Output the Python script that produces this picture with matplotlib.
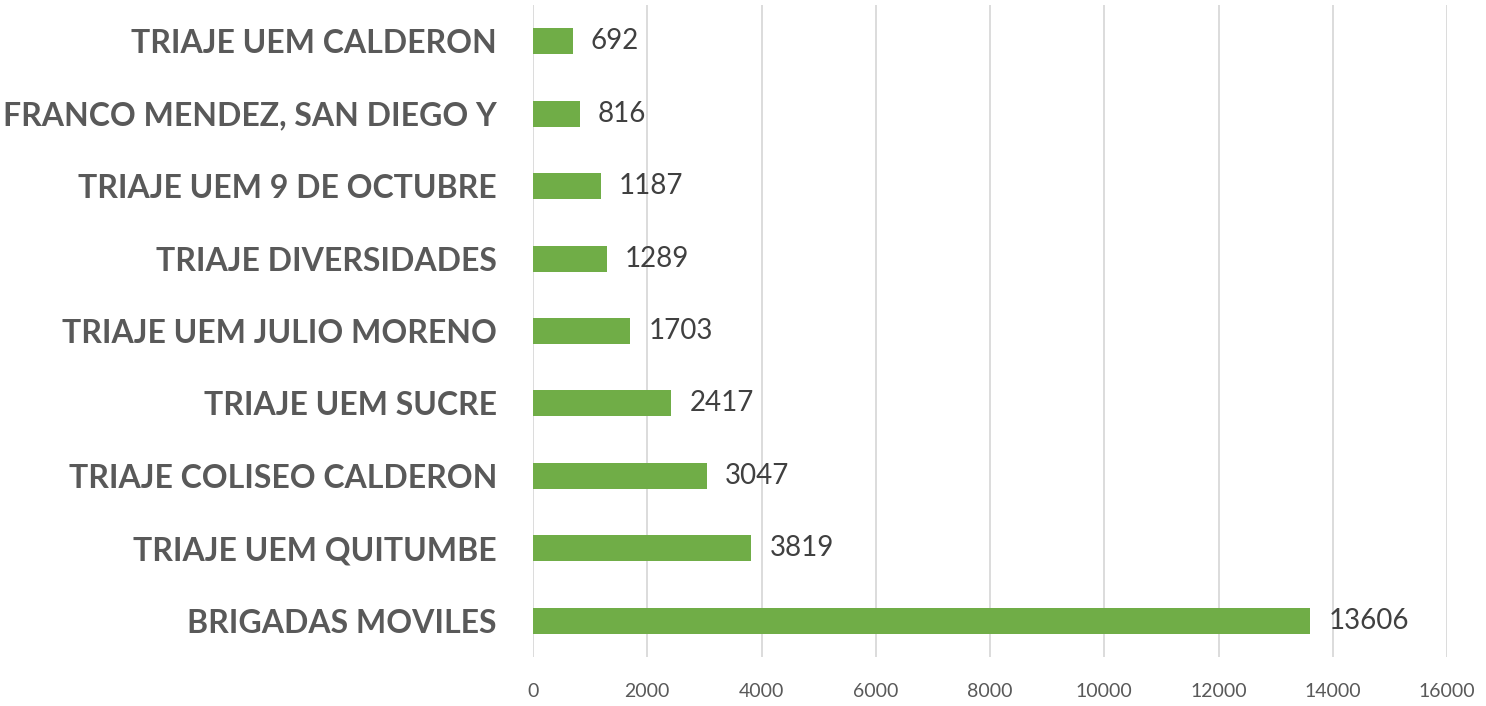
import matplotlib
matplotlib.use("Agg")
import matplotlib.pyplot as plt

categories = ["BRIGADAS MOVILES", "TRIAJE UEM QUITUMBE", "TRIAJE COLISEO CALDERON",
              "TRIAJE UEM SUCRE", "TRIAJE UEM JULIO MORENO", "TRIAJE DIVERSIDADES",
              "TRIAJE UEM 9 DE OCTUBRE", "FRANCO MENDEZ, SAN DIEGO Y", "TRIAJE UEM CALDERON"]
values = [13606, 3819, 3047, 2417, 1703, 1289, 1187, 816, 692]
xticks = [0, 2000, 4000, 6000, 8000, 10000, 12000, 14000, 16000]

plt.rcParams['font.family'] = ['Lato', 'DejaVu Sans']
TXT = '#595959'

fig = plt.figure(figsize=(14.86, 7.06), dpi=100)
ax = fig.add_axes([533/1486, 1-657/706, (1447-533)/1486, (657-5)/706])

y = list(range(len(categories)))
ax.barh(y, values, height=0.36, color='#70AD47', zorder=3)
for yi, v in zip(y, values):
    ax.text(v + 320, yi, str(v), va='center', ha='left', fontsize=20, color='#404040')

ax.set_xlim(0, 16000)
ax.set_ylim(-0.5, len(categories) - 0.5)
ax.set_xticks(xticks)
ax.set_xticklabels([str(t) for t in xticks], fontsize=14, color=TXT)
ax.set_yticks(y)
ax.set_yticklabels(categories, fontsize=23, fontweight='bold', color=TXT)
ax.tick_params(axis='both', length=0)
ax.tick_params(axis='x', pad=19)
ax.tick_params(axis='y', pad=26)
ax.grid(axis='x', color='#D9D9D9', linewidth=1.3, zorder=0)
for s in ax.spines.values():
    s.set_visible(False)

fig.savefig('out.png', dpi=100)
